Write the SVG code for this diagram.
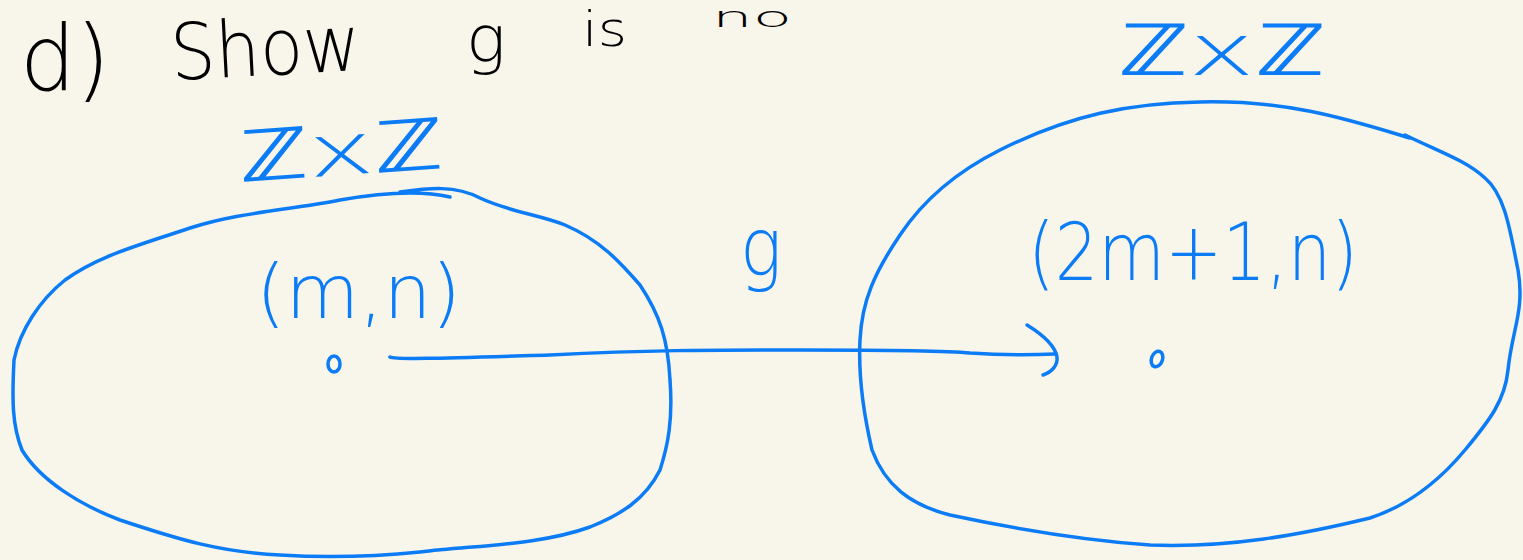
<svg xmlns="http://www.w3.org/2000/svg" width="1523" height="560" viewBox="0 0 1523 560">
<style>
.ink{fill:none;stroke:#0b7cf6;stroke-width:3.5;stroke-linecap:round;stroke-linejoin:round}
.blue{fill:#0b7cf6;font-family:"DejaVu Sans","Liberation Sans",sans-serif;font-weight:200}
.black{fill:#000;font-family:"DejaVu Sans","Liberation Sans",sans-serif;font-weight:200}
</style>
<rect width="1523" height="560" fill="#f8f6eb"/>
<g id="title">
<text class="black" x="20" y="90" font-size="90" textLength="90" lengthAdjust="spacingAndGlyphs">d)</text>
<text class="black" x="172" y="80" font-size="78" textLength="190" lengthAdjust="spacingAndGlyphs" transform="rotate(-3 172 80)">Show</text>
<text class="black" x="466" y="62" font-size="64" textLength="40" lengthAdjust="spacingAndGlyphs">g</text>
<text class="black" x="582" y="46" font-size="48" textLength="45" lengthAdjust="spacingAndGlyphs">is</text>
<text class="black" x="712" y="27" font-size="28" textLength="80" lengthAdjust="spacingAndGlyphs">no</text>
</g>
<g id="domain">
<path class="ink" d="M400,192 C430,188 455,185 480,198 C510,212 540,215 565,225 C600,240 620,262 640,285 C660,315 668,340 670,380 C673,420 668,445 660,470 C645,500 620,515 590,527 C540,545 480,545 420,552 C380,556 330,558 280,555 C220,552 180,540 120,520 C80,505 40,480 22,450 C12,425 12,400 14,360 C20,330 40,300 65,280 C100,255 140,245 190,228 C240,212 290,210 340,200 C380,193 420,190 450,197"/>
<text class="blue" x="240" y="182" font-size="72" textLength="205" lengthAdjust="spacingAndGlyphs" transform="rotate(-4 240 182)">ℤxℤ</text>
<text class="blue" x="256" y="318" font-size="75" textLength="205" lengthAdjust="spacingAndGlyphs">(m,n)</text>
<ellipse class="ink" cx="334" cy="364" rx="6" ry="8"/>
</g>
<g id="codomain">
<path class="ink" d="M1410,138 C1350,120 1290,100 1200,102 C1130,103 1070,115 1000,150 C950,175 920,205 900,235 C875,272 862,300 860,340 C858,380 865,420 872,450 C885,485 910,505 950,515 C1020,530 1080,540 1150,545 C1230,548 1300,535 1370,518 C1410,505 1440,480 1465,450 C1490,420 1505,400 1508,370 C1512,330 1525,310 1518,270 C1510,230 1505,195 1485,178 C1465,160 1440,152 1405,135"/>
<text class="blue" x="1118" y="75" font-size="72" textLength="207" lengthAdjust="spacingAndGlyphs">ℤxℤ</text>
<text class="blue" x="1028" y="280" font-size="80" textLength="330" lengthAdjust="spacingAndGlyphs">(2m+1,n)</text>
<ellipse class="ink" cx="1157" cy="359" rx="5.5" ry="8" transform="rotate(20 1157 359)"/>
</g>
<g id="connectors">
<path class="ink" d="M390,357 C395,360 450,358 550,355 C650,350 700,350 800,350 C900,350 950,351 970,353 C1000,355 1030,355 1055,354"/>
<path class="ink" d="M1027,325 C1040,333 1055,345 1057,357 C1058,365 1052,372 1043,375"/>
<text class="blue" x="740" y="275" font-size="80" textLength="42" lengthAdjust="spacingAndGlyphs">g</text>
</g>
</svg>
